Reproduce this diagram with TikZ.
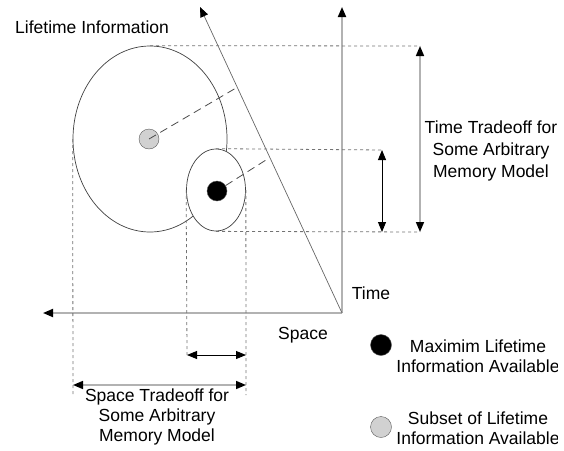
\documentclass[tikz,border=0pt]{standalone}
\usepackage{fontspec}
\setmainfont{Liberation Sans}
\usetikzlibrary{arrows.meta,shapes.geometric}

\tikzset{
  >={Triangle[length=10pt,width=8pt,color=black]},
  axisline/.style={draw=black!30,line width=1.8pt},
  guide/.style={draw=black!55,dash pattern=on 3pt off 3pt,line width=0.8pt},
  radial/.style={draw=black!70,dash pattern=on 8pt off 5pt,line width=0.8pt},
  tradeoff/.style={<->,line width=0.9pt},
  blob/.style={circle,draw=black!65,minimum size=20pt,inner sep=0pt},
  region/.style={ellipse,draw=black!75,line width=0.7pt,inner sep=0pt},
  caption/.style={font=\fontsize{17.5}{20}\selectfont,align=center,inner sep=0pt},
}

\begin{document}
\begin{tikzpicture}[x=1pt,y=-1pt]
  \useasboundingbox (0,0) rectangle (564,450);
  % axes
  \coordinate (origin) at (342,313);
  \coordinate (spacetip) at (43,313);
  \coordinate (timetip) at (342,7);
  \coordinate (skewtip) at (200,7);
  \draw[axisline,->] (origin) -- (timetip);
  \draw[axisline,->] (origin) -- (spacetip);
  \draw[black!60,line width=0.7pt,->] (origin) -- (skewtip);
  \node[caption] (timelbl) at (371,293) {Time};
  \node[caption] (spacelbl) at (303,335) {Space};

  % lifetime regions
  \node[region,minimum width=154pt,minimum height=186pt] (subset) at (150,139) {};
  \node[region,fill=white,minimum width=59pt,minimum height=82pt] (maxinfo) at (216,190) {};
  \node[blob,fill=black!18] (partdot) at (149,139) {};
  \coordinate (partend) at (236,88);
  \coordinate (fullend) at (266,160);
  \draw[radial] (partdot.center) -- (partend);
  \node[blob,fill=black] (fulldot) at (217,191) {};
  \draw[radial] (fulldot) -- (fullend);
  \node[caption,anchor=west] (lifetime) at (15,27) {Lifetime Information};

  % time tradeoff
  \coordinate (ttop) at (420,46);
  \coordinate (tbot) at (420,232);
  \coordinate (mtop) at (382,150);
  \coordinate (mbot) at (382,232);
  \draw[guide] (subset.north) -- (ttop);
  \draw[guide] (maxinfo.north) -- (mtop);
  \draw[guide] (maxinfo.south) -- (tbot);
  \draw[tradeoff,draw=black!30,line width=1.6pt] (tbot) -- (ttop);
  \draw[tradeoff] (mbot) -- (mtop);

  % space tradeoff
  \coordinate (sleft) at (73,385);
  \coordinate (sright) at (246,385);
  \coordinate (mleft) at (187,355);
  \coordinate (mright) at (246,355);
  \draw[guide] (subset.west) -- (73,395);
  \draw[guide] (maxinfo.west) -- (mleft);
  \draw[guide] (maxinfo.east) -- (246,395);
  \draw[tradeoff] (mleft) -- (mright);
  \draw[tradeoff,draw=black!30,line width=1.6pt] (sleft) -- (sright);
  \node[caption] (spacetradeoff) at (157,417)
    {Space Tradeoff for\\Some Arbitrary\\Memory Model};

  % key
  \node[blob,fill=black,minimum size=21pt] (keyfull) at (381,345) {};
  \node[blob,fill=black!18,minimum size=21pt] (keypart) at (381,427) {};

  % right-hand texts, cut off at their box edge
  \begin{scope}
    \clip (0,0) rectangle (557,450);
    \node[caption,font=\fontsize{17.5}{22}\selectfont] (timetradeoff) at (491,151)
      {Time Tradeoff for\\Some Arbitrary\\Memory Model};
    \node[caption] (keyfulltxt) at (478,356) {Maximim Lifetime\\Information Available};
    \node[caption] (keyparttxt) at (478,428) {Subset of Lifetime\\Information Available};
  \end{scope}
\end{tikzpicture}
\end{document}
